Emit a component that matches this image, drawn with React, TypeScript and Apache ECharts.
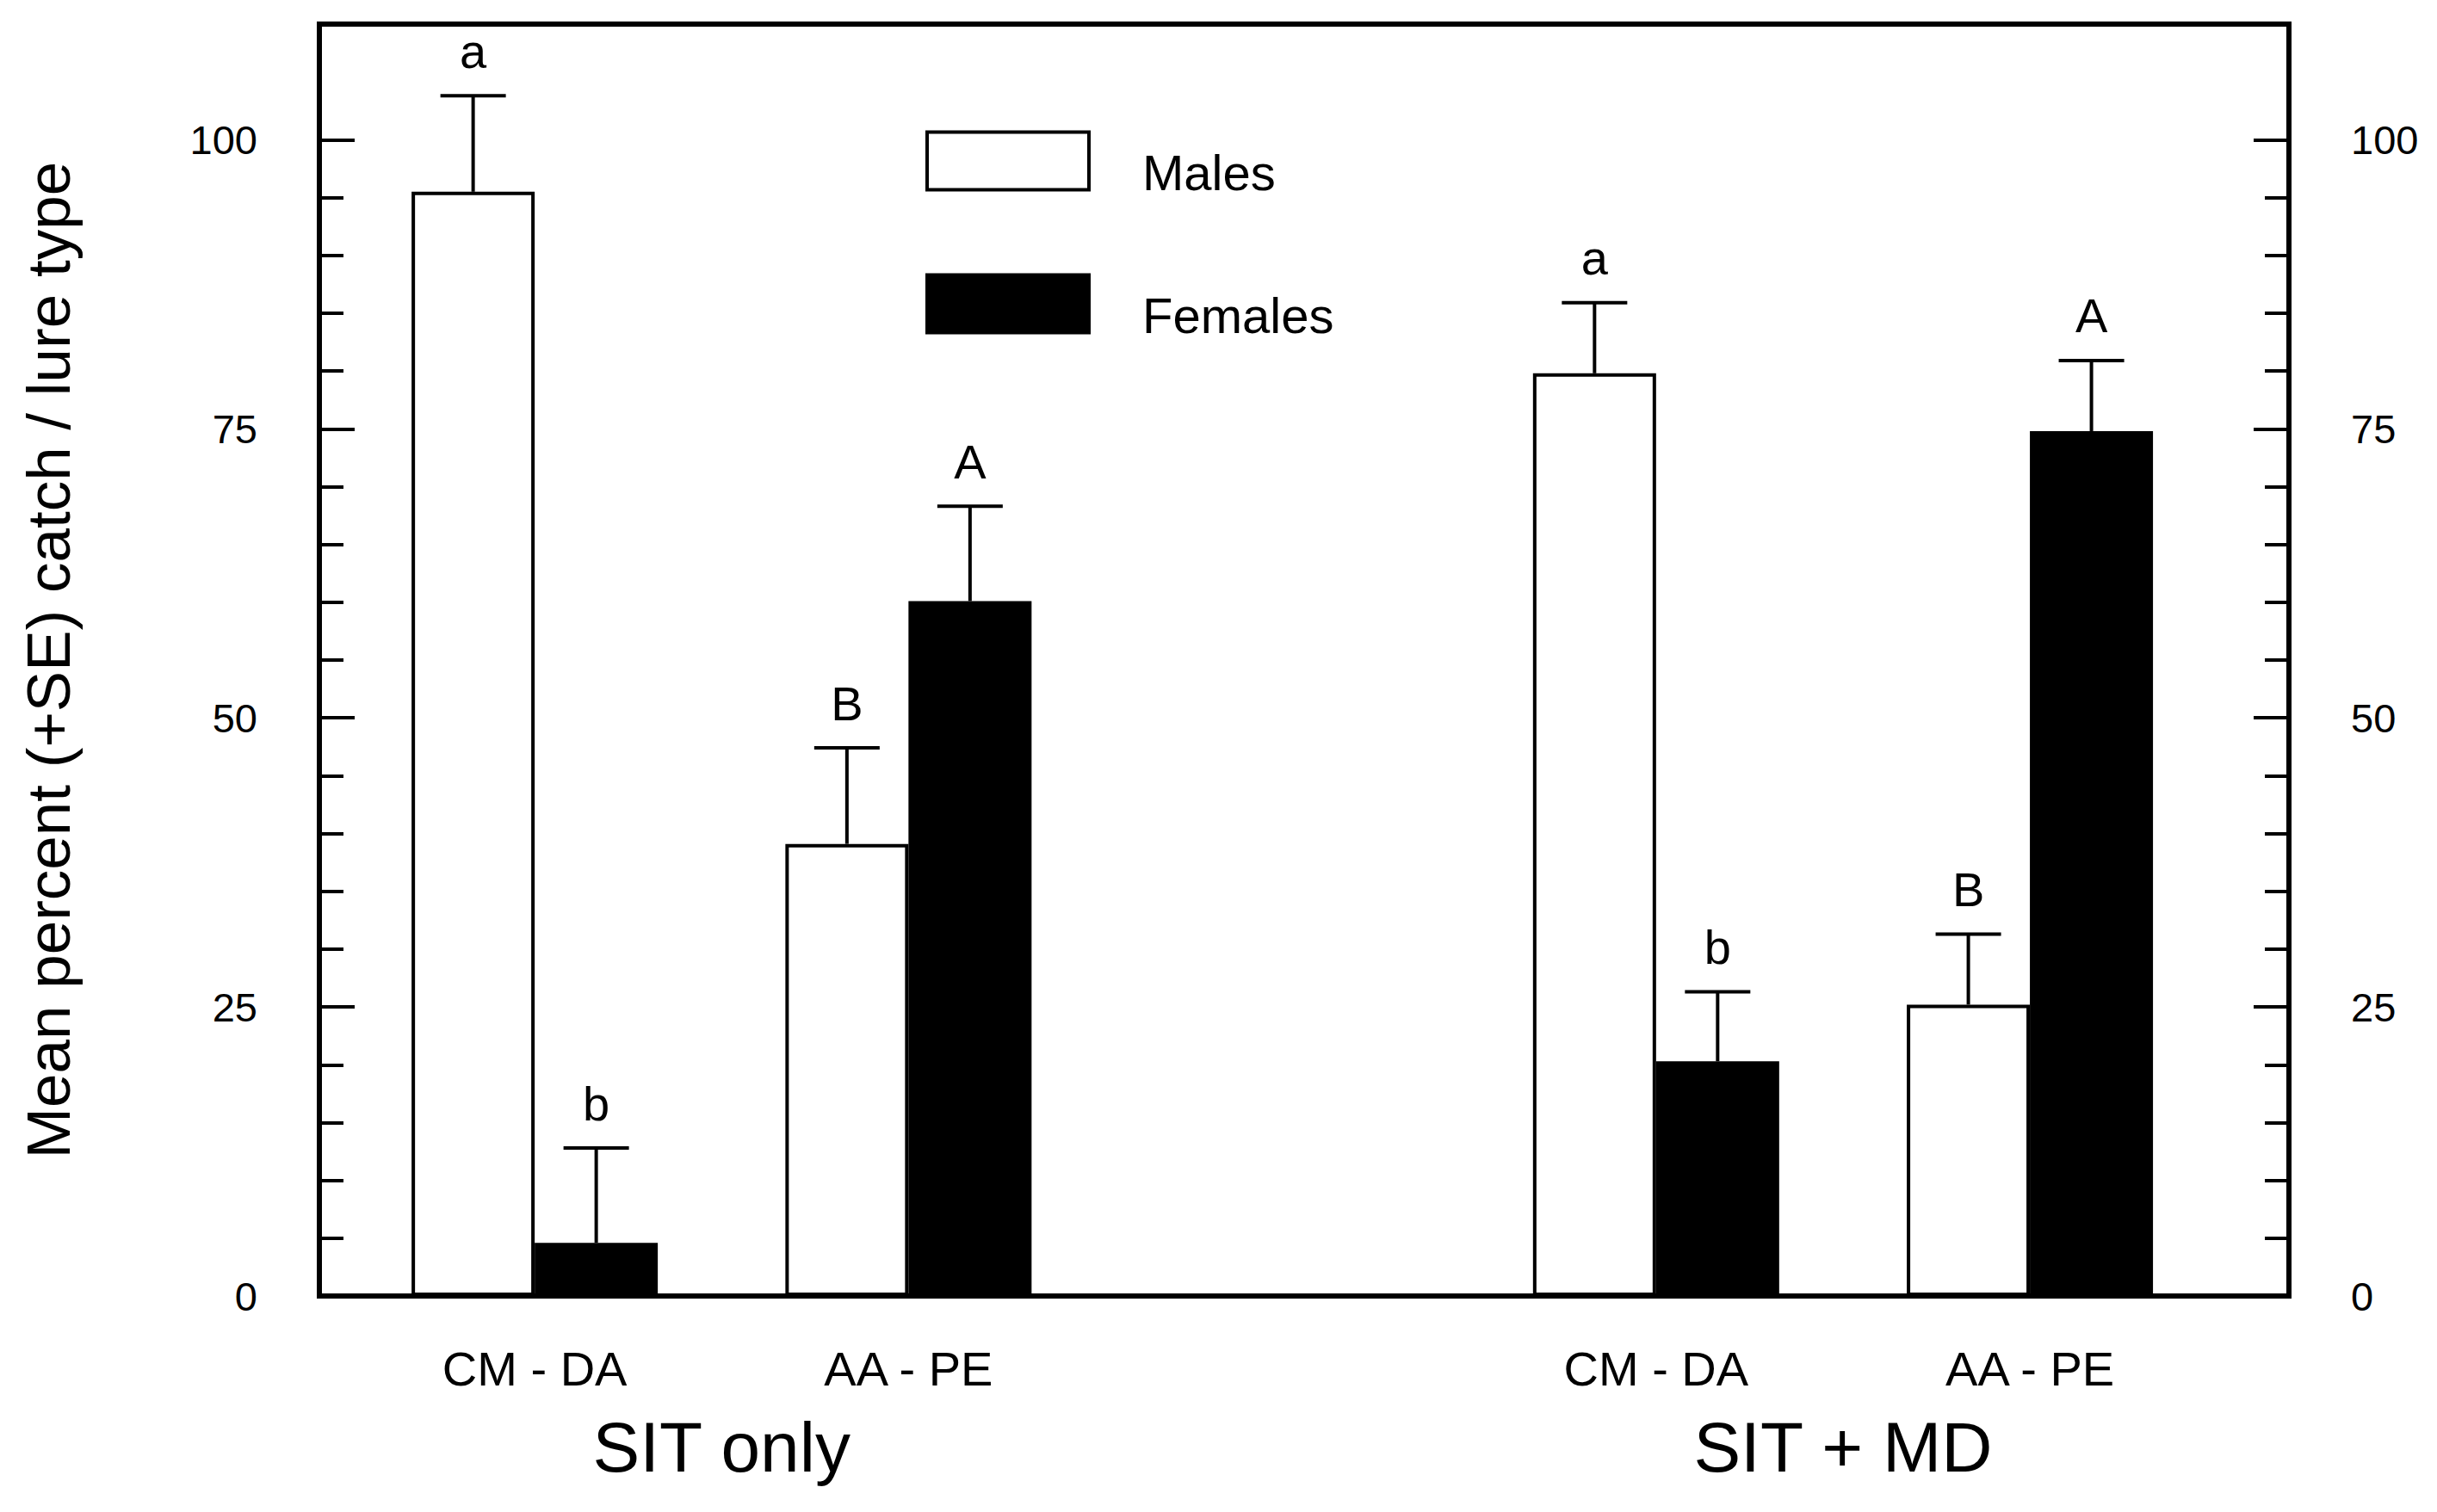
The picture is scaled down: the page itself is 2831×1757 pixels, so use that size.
import React, { useEffect, useRef } from "react";
import * as echarts from "echarts";

// ---- data ----
const lurePositions = [1, 2, 4, 5];
const lureLabels = ["CM - DA", "AA - PE", "CM - DA", "AA - PE"];
const groupPositions = [1.5, 4.5];
const groupLabels = ["SIT only", "SIT + MD"];
const malesMean = [95.5, 39.1, 79.8, 25.2];
const malesSE = [8.3, 8.3, 6.1, 6.1];
const femalesMean = [4.6, 60.1, 20.3, 74.8];
const femalesSE = [8.2, 8.2, 6.0, 6.1];
const malesLetters = ["a", "B", "a", "B"];
const femalesLetters = ["b", "A", "b", "A"];
const yMajorTicks = [0, 25, 50, 75, 100];
const yMinorTicks = [5, 10, 15, 20, 30, 35, 40, 45, 55, 60, 65, 70, 80, 85, 90, 95];
const yTitle = "Mean percent (+SE) catch / lure type";

const FONT = "'Liberation Sans', Arial, Helvetica, sans-serif";
const BAR_W = 143;
const X_MIN = 0.424;
const X_MAX = 5.693;
const Y_MIN = 0;
const Y_MAX = 110;

function labelFor(v: number, pos: number[], labels: string[]) {
  for (let i = 0; i < pos.length; i++) {
    if (Math.abs(pos[i] - v) < 1e-6) return labels[i];
  }
  return "";
}

function errorSeries(name: string, means: number[], ses: number[], letters: string[], side: number) {
  return {
    type: "custom",
    name: name + " SE",
    xAxisIndex: 0,
    yAxisIndex: 0,
    z: 5,
    silent: true,
    data: lurePositions.map((p, i) => [p, means[i], ses[i]]),
    renderItem: (params: any, api: any) => {
      const x = api.value(0);
      const m = api.value(1);
      const se = api.value(2);
      const base = api.coord([x, m]);
      const top = api.coord([x, m + se]);
      const cx = base[0] + (side * BAR_W) / 2;
      return {
        type: "group",
        children: [
          {
            type: "line",
            shape: { x1: cx, y1: base[1], x2: cx, y2: top[1] },
            style: { stroke: "#000", lineWidth: 4 },
          },
          {
            type: "line",
            shape: { x1: cx - 38, y1: top[1], x2: cx + 38, y2: top[1] },
            style: { stroke: "#000", lineWidth: 4 },
          },
          {
            type: "text",
            x: cx,
            y: top[1] - 52,
            style: {
              text: letters[params.dataIndex],
              fontSize: 56,
              fontFamily: FONT,
              fill: "#000",
              align: "center",
              verticalAlign: "middle",
            },
          },
        ],
      };
    },
  };
}

export default function App() {
  const ref = useRef<HTMLDivElement>(null);

  useEffect(() => {
    document.body.style.margin = "0";
    document.body.style.overflow = "hidden";
    if (!ref.current) return;
    const chart = echarts.init(ref.current, null, { renderer: "svg" });

    const yLabelCommon = {
      color: "#000",
      fontSize: 47,
      fontFamily: FONT,
      margin: 72,
      padding: [13, 0, 0, 0],
      customValues: yMajorTicks,
    };

    const option: any = {
      animation: false,
      backgroundColor: "#fff",
      grid: {
        left: 371,
        right: 172,
        top: 28,
        bottom: 251,
        show: true,
        borderColor: "#000",
        borderWidth: 6,
        backgroundColor: "transparent",
      },
      legend: {
        orient: "vertical",
        left: 1075,
        top: 145,
        padding: 0,
        itemWidth: 188,
        itemHeight: 67,
        itemGap: 82,
        icon: "rect",
        selectedMode: false,
        data: ["Males", "Females"],
        formatter: (name: string) => "\n" + name,
        itemStyle: { borderColor: "#000", borderWidth: 4 },
        textStyle: {
          color: "#000",
          fontSize: 58,
          lineHeight: 26,
          fontFamily: FONT,
          padding: [0, 0, 0, 57],
        },
      },
      xAxis: [
        {
          type: "value",
          min: X_MIN,
          max: X_MAX,
          position: "bottom",
          axisLine: { show: true, onZero: false, lineStyle: { color: "#000", width: 6 } },
          axisTick: { show: false },
          splitLine: { show: false },
          axisLabel: {
            customValues: lurePositions,
            formatter: (v: number) => labelFor(v, lurePositions, lureLabels),
            color: "#000",
            fontSize: 56,
            lineHeight: 56,
            fontFamily: FONT,
            margin: 56,
          },
        },
        {
          type: "value",
          min: X_MIN,
          max: X_MAX,
          position: "bottom",
          axisLine: { show: false },
          axisTick: { show: false },
          splitLine: { show: false },
          axisLabel: {
            customValues: groupPositions,
            formatter: (v: number) => labelFor(v, groupPositions, groupLabels),
            color: "#000",
            fontSize: 82,
            lineHeight: 82,
            fontFamily: FONT,
            margin: 134,
          },
        },
      ],
      yAxis: [
        {
          type: "value",
          min: Y_MIN,
          max: Y_MAX,
          position: "left",
          name: yTitle,
          nameLocation: "middle",
          nameRotate: 90,
          nameGap: 279,
          nameTextStyle: { color: "#000", fontSize: 71, fontFamily: FONT },
          axisLine: { show: true, lineStyle: { color: "#000", width: 6 } },
          axisTick: {
            show: true,
            inside: true,
            length: 41,
            customValues: yMajorTicks,
            lineStyle: { color: "#000", width: 4 },
          },
          splitLine: { show: false },
          axisLabel: { ...yLabelCommon, align: "right" },
        },
        {
          type: "value",
          min: Y_MIN,
          max: Y_MAX,
          position: "right",
          axisLine: { show: true, lineStyle: { color: "#000", width: 6 } },
          axisTick: {
            show: true,
            inside: true,
            length: 41,
            customValues: yMajorTicks,
            lineStyle: { color: "#000", width: 4 },
          },
          splitLine: { show: false },
          axisLabel: { ...yLabelCommon, align: "left" },
        },
        {
          type: "value",
          min: Y_MIN,
          max: Y_MAX,
          position: "left",
          axisLine: { show: false },
          axisTick: {
            show: true,
            inside: true,
            length: 28,
            customValues: yMinorTicks,
            lineStyle: { color: "#000", width: 4 },
          },
          splitLine: { show: false },
          axisLabel: { show: false },
        },
        {
          type: "value",
          min: Y_MIN,
          max: Y_MAX,
          position: "right",
          axisLine: { show: false },
          axisTick: {
            show: true,
            inside: true,
            length: 28,
            customValues: yMinorTicks,
            lineStyle: { color: "#000", width: 4 },
          },
          splitLine: { show: false },
          axisLabel: { show: false },
        },
      ],
      series: [
        {
          type: "bar",
          name: "Males",
          xAxisIndex: 0,
          yAxisIndex: 0,
          barWidth: BAR_W,
          barGap: "0%",
          data: lurePositions.map((p, i) => [p, malesMean[i]]),
          itemStyle: { color: "#fff", borderColor: "#000", borderWidth: 4 },
        },
        {
          type: "bar",
          name: "Females",
          xAxisIndex: 0,
          yAxisIndex: 0,
          barWidth: BAR_W,
          barGap: "0%",
          data: lurePositions.map((p, i) => [p, femalesMean[i]]),
          itemStyle: { color: "#000", borderColor: "#000", borderWidth: 4 },
        },
        errorSeries("Males", malesMean, malesSE, malesLetters, -1),
        errorSeries("Females", femalesMean, femalesSE, femalesLetters, 1),
      ],
    };

    chart.setOption(option);
    return () => chart.dispose();
  }, []);

  return <div ref={ref} style={{ width: 2831, height: 1757 }} />;
}
